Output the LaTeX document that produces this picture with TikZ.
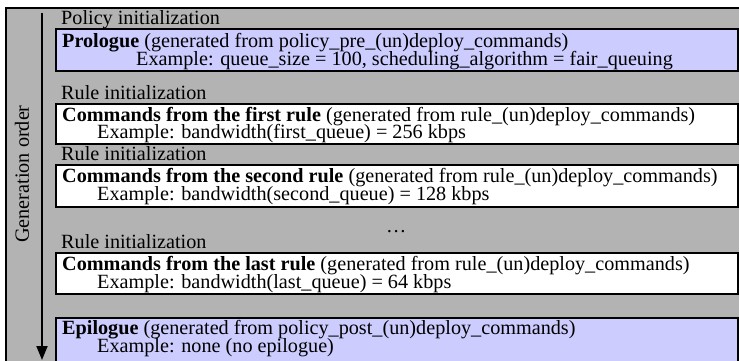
\documentclass[tikz,border=0pt]{standalone}
\usepackage{fontspec}
\setmainfont{Liberation Serif}
\usetikzlibrary{arrows.meta}
\definecolor{bggray}{RGB}{179,179,179}
\definecolor{lav}{RGB}{204,204,255}
\tikzset{
  stagebox/.style={draw=black,line width=2.2bp,minimum width=682bp,anchor=north west,inner sep=0pt},
  txt/.style={anchor=base west,inner sep=0pt,font=\fontsize{20.2bp}{23bp}\selectfont},
}
\begin{document}
\begin{tikzpicture}[x=1bp,y=-1bp]
\useasboundingbox (0,0) rectangle (739,360);
\fill[white] (0,0) rectangle (739,360);
\node[draw=black,fill=bggray,line width=1.5bp,anchor=north west,minimum width=734bp,minimum height=360bp,inner sep=0pt] (frame) at (5,7) {};
% boxes
\node[stagebox,fill=lav,minimum height=42bp] (pro) at (55,28) {};
\node[stagebox,fill=white,minimum height=40bp] (r1) at (55,103) {};
\node[stagebox,fill=white,minimum height=42bp] (r2) at (55,164) {};
\node[stagebox,fill=white,minimum height=41bp] (r3) at (55,252) {};
\node[stagebox,fill=lav,minimum height=50bp] (epi) at (55,317) {};
% labels
\node[txt] (l0) at (61,24) {Policy initialization};
\node[txt] (p1) at (62,47) {\textbf{Prologue} (generated from policy\_pre\_(un)deploy\_commands)};
\node[txt] (p2) at (136,65) {Example: queue\_size = 100, scheduling\_algorithm = fair\_queuing};
\node[txt] (l1) at (61,99) {Rule initialization};
\node[txt] (a1) at (62,121) {\textbf{Commands from the first rule} (generated from rule\_(un)deploy\_commands)};
\node[txt] (a2) at (97,138) {Example: bandwidth(first\_queue) = 256 kbps};
\node[txt] (l2) at (61,160) {Rule initialization};
\node[txt] (b1) at (62,182) {\textbf{Commands from the second rule} (generated from rule\_(un)deploy\_commands)};
\node[txt] (b2) at (97,200) {Example: bandwidth(second\_queue) = 128 kbps};
\node[txt] (dots) at (386,232) {\dots};
\node[txt] (l3) at (61,248) {Rule initialization};
\node[txt] (c1) at (62,270) {\textbf{Commands from the last rule} (generated from rule\_(un)deploy\_commands)};
\node[txt] (c2) at (97,288) {Example: bandwidth(last\_queue) = 64 kbps};
\node[txt] (e1) at (62,334) {\textbf{Epilogue} (generated from policy\_post\_(un)deploy\_commands)};
\node[txt] (e2) at (97,352) {Example: none (no epilogue)};
% generation order
\node[txt,anchor=center,rotate=90] (gen) at (22,174) {Generation order};
\coordinate (atop) at (42,13);
\coordinate (abot) at (42,360);
\draw[line width=2bp,-{Triangle[length=14bp,width=11bp]}] (atop) -- (abot);
\end{tikzpicture}
\end{document}
